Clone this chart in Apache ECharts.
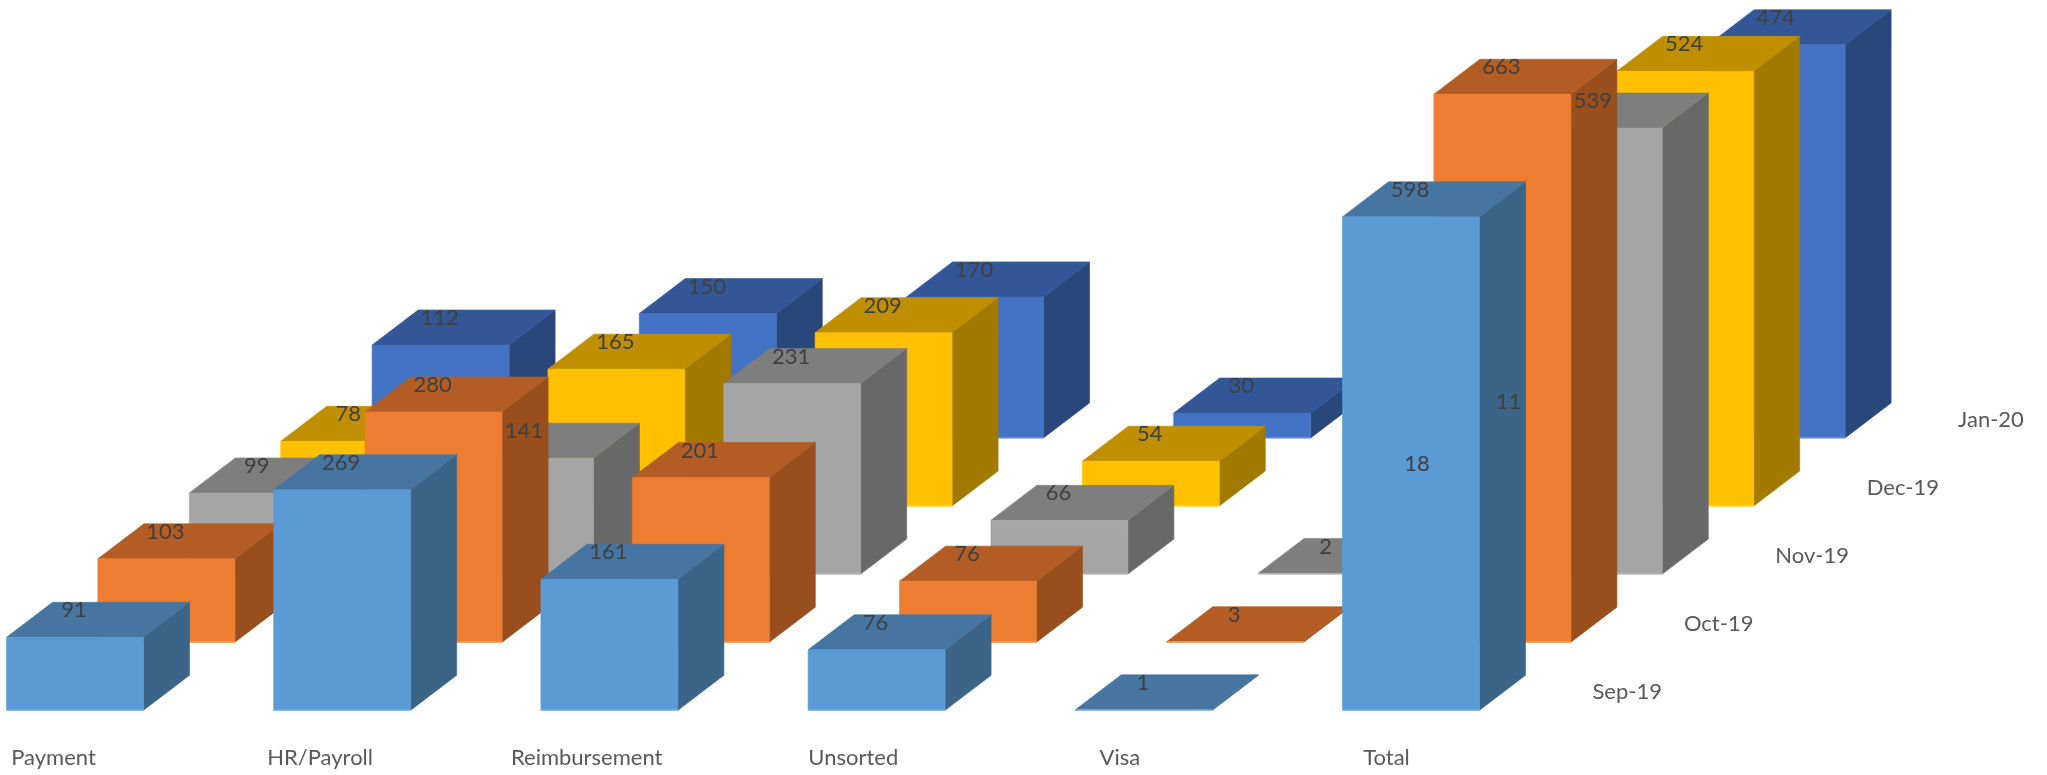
<!DOCTYPE html>
<html><head><meta charset="utf-8">
<style>html,body{margin:0;padding:0;background:#fff}#c{width:2047px;height:775px}</style>
<script src="https://cdn.jsdelivr.net/npm/echarts@6/dist/echarts.min.js"></script>
</head><body><div id="c"></div>
<script>
const categories = ['Payment','HR/Payroll','Reimbursement','Unsorted','Visa','Total'];
const months = ['Sep-19','Oct-19','Nov-19','Dec-19','Jan-20'];
const sep19 = [91,269,161,76,1,598];
const oct19 = [103,280,201,76,3,663];
const nov19 = [99,141,231,66,2,539];
const dec19 = [78,165,209,54,18,524];
const jan20 = [112,150,170,30,11,474];
const rows = [sep19,oct19,nov19,dec19,jan20];
const faceColors = [
  {front:'#5B9BD5',top:'#4675A1',side:'#3A6488',edge:'#8DB9E2'},
  {front:'#ED7D31',top:'#B35D24',side:'#984F1D',edge:'#F4A671'},
  {front:'#A5A5A5',top:'#7E7E7E',side:'#686868',edge:'#C4C4C4'},
  {front:'#FFC000',top:'#BF8F00',side:'#A37A00',edge:'#FFD65C'},
  {front:'#4472C4',top:'#335696',side:'#2A477C',edge:'#7C9BD6'}
];
const FONT = 'Lato, "Open Sans", sans-serif';
const BAR_W = 137, DX = 46, DY = 35, ROW_DX = 91.4, ROW_DY = 68.1, BAR_LEFT = -47, CAT_EXTRA = 0.6;
const ROW_SINK = [2.5,2,1,0,0];

function geom(api, r){
  const p = api.coord([api.value(0), api.value(1)]);
  const b = api.coord([api.value(0), 0]);
  const left = p[0] + BAR_LEFT + ROW_DX*r + CAT_EXTRA*api.value(0);
  const base = b[1]-ROW_DY*r;
  return {left, right:left+BAR_W, top:Math.min(base-0.5, p[1]-ROW_DY*r+ROW_SINK[r]), base};
}
function boxItem(r){
  return function(params, api){
    const g = geom(api, r), c = faceColors[r];
    const {left:l,right:R,top:t,base:b} = g;
    const poly = (pts, fill) => ({type:'polygon',shape:{points:pts},
      style:{fill, stroke:fill, lineWidth:0.6}, silent:true});
    return {type:'group',children:[
      poly([[R,t],[R+DX,t-DY],[R+DX,b-DY],[R,b]], c.side),
      poly([[l,t],[R,t],[R+DX,t-DY],[l+DX,t-DY]], c.top),
      poly([[l,t],[R,t],[R,b],[l,b]], c.front),
      {type:'line',shape:{x1:l,y1:b,x2:R,y2:b},style:{stroke:c.edge,lineWidth:1.4},silent:true}
    ]};
  };
}
function labelItem(r){
  return function(params, api){
    const g = geom(api, r);
    const children = [{type:'text',x:g.left+67.5,y:g.top-27,silent:true,
      style:{text:String(api.value(1)),font:'22px '+FONT,fill:'#404040',align:'center',verticalAlign:'middle'}}];
    if(params.dataIndex === categories.length-1){
      children.push({type:'text',x:g.left+250,y:g.base-18,silent:true,
        style:{text:months[r],font:'22px '+FONT,fill:'#595959',align:'left',verticalAlign:'middle'}});
    }
    return {type:'group',children};
  };
}
const series = [];
for(let r=rows.length-1;r>=0;r--){
  series.push({type:'custom',name:months[r],z:10+(rows.length-r),coordinateSystem:'cartesian2d',
    renderItem:boxItem(r),clip:false,silent:true,
    encode:{x:0,y:1},data:rows[r].map((v,i)=>[i,v])});
}
for(let r=rows.length-1;r>=0;r--){
  series.push({type:'custom',name:months[r]+' labels',z:50,coordinateSystem:'cartesian2d',
    renderItem:labelItem(r),clip:false,silent:true,
    encode:{x:0,y:1},data:rows[r].map((v,i)=>[i,v])});
}
const chart = echarts.init(document.getElementById('c'));
chart.setOption({
  animation:false,
  backgroundColor:'#ffffff',
  grid:{left:53.5,top:6.9,width:1333,height:703.4,containLabel:false},
  xAxis:{type:'category',data:categories,boundaryGap:false,
    axisLine:{show:false},axisTick:{show:false},splitLine:{show:false},
    axisLabel:{interval:0,margin:36,color:'#595959',fontFamily:FONT,fontSize:22,lineHeight:24}},
  yAxis:{type:'value',min:0,max:848,axisLine:{show:false},axisTick:{show:false},splitLine:{show:false},axisLabel:{show:false}},
  series
});
</script></body></html>
